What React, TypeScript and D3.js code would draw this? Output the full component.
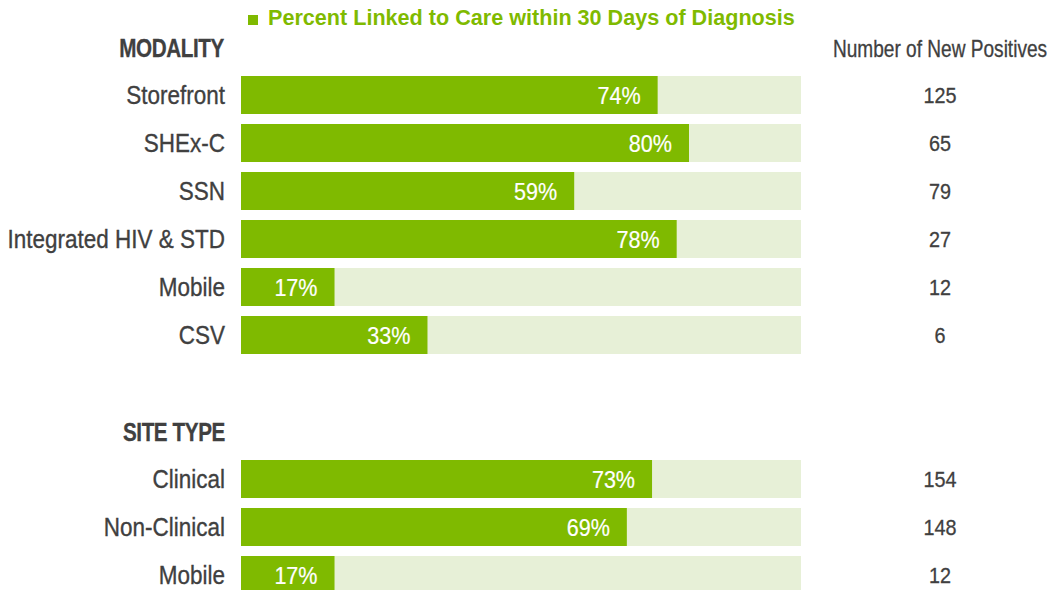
import React from "react";
import * as d3 from "d3";

const modalityCategories = ["Storefront", "SHEx-C", "SSN", "Integrated HIV & STD", "Mobile", "CSV"];
const modalityPercent = [74.4, 80.0, 59.5, 77.8, 16.7, 33.3];
const modalityLabels = ["74%", "80%", "59%", "78%", "17%", "33%"];
const modalityPositives = [125, 65, 79, 27, 12, 6];

const siteCategories = ["Clinical", "Non-Clinical", "Mobile"];
const sitePercent = [73.4, 68.9, 16.7];
const siteLabels = ["73%", "69%", "17%"];
const sitePositives = [154, 148, 12];

const legendText = "Percent Linked to Care within 30 Days of Diagnosis";
const countHeader = "Number of New Positives";

const W = 1054;
const H = 590;
const FONT = "'Liberation Sans', Arial, sans-serif";
const DARK = "#7FBA00";
const LIGHT = "#E7F0D7";
const TEXT = "#404040";

const x = d3.scaleLinear().domain([0, 100]).range([241, 801]);

function T({ x, y, sx = 1, size, anchor = "start", weight = "normal", fill = TEXT, ls = 0, dy = "0", sw = 0, children }: any) {
  return (
    <g transform={`translate(${x},${y}) scale(${sx},1)`}>
      <text
        x={0}
        y={0}
        dy={dy}
        textAnchor={anchor}
        fontSize={size}
        fontWeight={weight}
        fill={fill}
        stroke={sw ? fill : "none"}
        strokeWidth={sw}
        fontFamily={FONT}
        letterSpacing={ls}
      >
        {children}
      </text>
    </g>
  );
}

function Group({ cats, pct, labels, counts, y0 }: any) {
  const n = cats.length;
  const y = d3
    .scaleBand<string>()
    .domain(cats)
    .range([y0, y0 + n * 48 - 10])
    .paddingInner(10 / 48)
    .paddingOuter(0);
  return (
    <g>
      {cats.map((c: string, i: number) => {
        const top = y(c)!;
        const bw = y.bandwidth();
        const cy = top + bw / 2;
        return (
          <g key={c + i}>
            <rect x={x(0)} y={top} width={x(100) - x(0)} height={bw} fill={LIGHT} />
            <rect x={x(0)} y={top} width={x(pct[i]) - x(0)} height={bw} fill={DARK} />
            <T x={225} y={cy} dy="0.36em" sx={0.865} size={26} anchor="end" sw={0.35}>
              {c}
            </T>
            <T x={x(pct[i]) - 17} y={cy} dy="0.38em" sx={0.88} size={24.5} anchor="end" fill="#ffffff" sw={0.2}>
              {labels[i]}
            </T>
            <T x={940} y={cy} dy="0.35em" sx={0.9} size={22} anchor="middle" sw={0.3}>
              {counts[i]}
            </T>
          </g>
        );
      })}
    </g>
  );
}

export default function App() {
  return (
    <svg
      width={W}
      height={H}
      style={{ position: "absolute", left: 0, top: 0, background: "#fff" }}
    >
      <rect x={248} y={15} width={10} height={10} fill={DARK} />
      <T x={268} y={25} size={21.6} weight="bold" fill={DARK}>
        {legendText}
      </T>
      <T x={224} y={57.3} sx={0.78} size={26.5} weight="bold" anchor="end" ls={-0.5} sw={0.3}>
        MODALITY
      </T>
      <T x={940} y={56.7} sx={0.83} size={23} anchor="middle" sw={0.3}>
        {countHeader}
      </T>
      <Group cats={modalityCategories} pct={modalityPercent} labels={modalityLabels} counts={modalityPositives} y0={76} />
      <T x={225} y={441} sx={0.78} size={26.5} weight="bold" anchor="end" ls={-0.5} sw={0.3}>
        SITE TYPE
      </T>
      <Group cats={siteCategories} pct={sitePercent} labels={siteLabels} counts={sitePositives} y0={460} />
    </svg>
  );
}
